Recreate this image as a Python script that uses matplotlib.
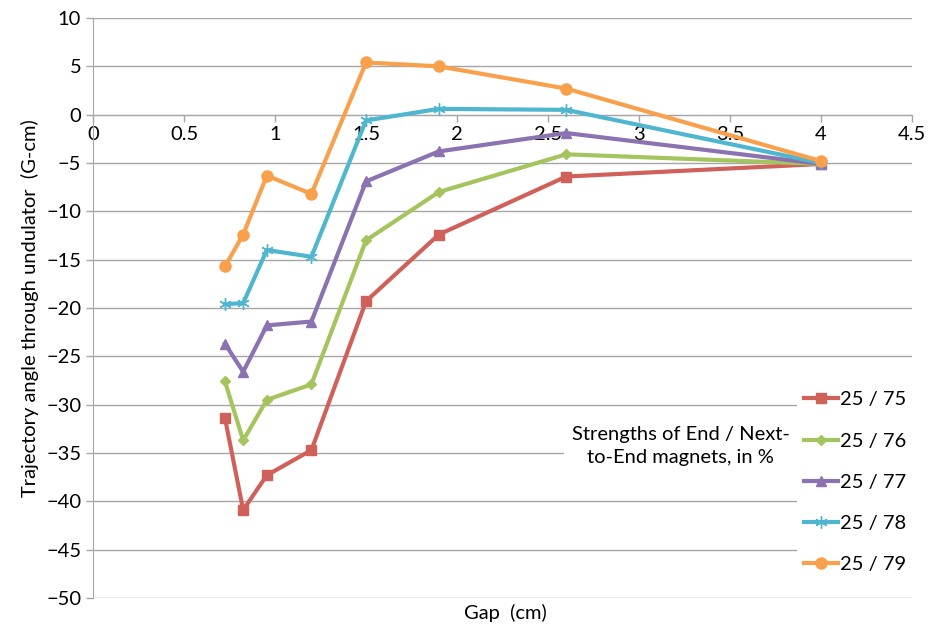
import matplotlib
matplotlib.use('Agg')
import matplotlib.pyplot as plt

plt.rcParams['font.family'] = ['Lato', 'DejaVu Sans']

# gap values (cm)
gap = [0.725, 0.825, 0.955, 1.2, 1.5, 1.9, 2.6, 4.0]

# trajectory angle (G-cm) for each end / next-to-end strength
s75 = [-31.4, -40.9, -37.3, -34.7, -19.3, -12.4, -6.4, -5.1]
s76 = [-27.6, -33.7, -29.5, -27.9, -13.0, -8.0, -4.1, -5.1]
s77 = [-23.7, -26.6, -21.8, -21.4, -6.9, -3.8, -1.9, -5.1]
s78 = [-19.6, -19.5, -14.0, -14.7, -0.6, 0.6, 0.5, -5.0]
s79 = [-15.7, -12.4, -6.3, -8.2, 5.4, 5.0, 2.7, -4.8]

labels = ['25 / 75', '25 / 76', '25 / 77', '25 / 78', '25 / 79']
series = [s75, s76, s77, s78, s79]
colors = ['#d0605a', '#a4c45e', '#8b72b0', '#4fb6cf', '#f9a04c']
markers = ['s', 'D', '^', (6, 2, 0), 'o']
msizes = [7, 5, 7, 9, 8]

fig = plt.figure(figsize=(9.35, 6.3), dpi=100)
ax = fig.add_axes([0.0995, 0.0508, 0.8759, 0.9206])

for y, lab, c, m, ms in zip(series, labels, colors, markers, msizes):
    ax.plot(gap, y, color=c, lw=3, marker=m, ms=ms, mfc=c, mec=c,
            label=lab, zorder=3)

ax.set_xlim(0, 4.5)
ax.set_ylim(-50, 10)
ax.set_xticks([0, 0.5, 1, 1.5, 2, 2.5, 3, 3.5, 4, 4.5])
ax.set_xticklabels(['0', '0.5', '1', '1.5', '2', '2.5', '3', '3.5', '4', '4.5'])
ax.set_yticks(range(-50, 11, 5))

ax.yaxis.grid(True, color='#a6a6a6', lw=1)
ax.set_axisbelow(True)
for s in ['top', 'right']:
    ax.spines[s].set_visible(False)
ax.spines['bottom'].set_position(('data', 0))
ax.spines['bottom'].set_color('#a6a6a6')
ax.spines['left'].set_color('#a6a6a6')
ax.tick_params(axis='both', direction='out', length=5, color='#a6a6a6',
               labelsize=14.5, width=1)
ax.tick_params(axis='x', pad=3)

ax.set_ylabel('Trajectory angle through undulator  (G-cm)', fontsize=14.5, labelpad=5)
ax.text(0.503, -0.01, 'Gap  (cm)', transform=ax.transAxes, ha='center', va='top',
        fontsize=14.5)

ax.text(3.23, -34.3, 'Strengths of End / Next-\nto-End magnets, in %',
        ha='center', va='center', fontsize=14.5, linespacing=1.4,
        bbox=dict(facecolor='white', edgecolor='none', pad=6), zorder=4)

leg = ax.legend(loc='lower right', bbox_to_anchor=(1.005, 0.025), frameon=True,
                fontsize=14.5, handlelength=1.7, handletextpad=0.1,
                labelspacing=1.2, borderpad=0.3, borderaxespad=0.2)
leg.get_frame().set_edgecolor('none')
leg.get_frame().set_facecolor('white')
leg.get_frame().set_alpha(1)

fig.savefig('out.png', dpi=100)
